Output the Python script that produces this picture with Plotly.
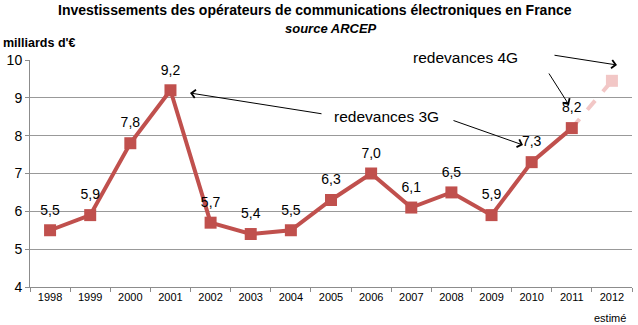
import plotly.graph_objects as go

years = ["1998","1999","2000","2001","2002","2003","2004","2005","2006","2007","2008","2009","2010","2011"]
values = [5.5, 5.9, 7.8, 9.2, 5.7, 5.4, 5.5, 6.3, 7.0, 6.1, 6.5, 5.9, 7.3, 8.2]
labels = ["5,5","5,9","7,8","9,2","5,7","5,4","5,5","6,3","7,0","6,1","6,5","5,9","7,3","8,2"]
est_years = ["2011", "2012"]
est_values = [8.2, 9.45]
all_years = years + ["2012"]

RED = "#C0504D"
PINK = "#F2C7C6"
FONT = "Liberation Sans"

fig = go.Figure()
fig.add_trace(go.Scatter(
    x=est_years, y=est_values, mode="lines",
    line=dict(color=PINK, width=4, dash="dash"), hoverinfo="skip"))
fig.add_trace(go.Scatter(
    x=[est_years[1]], y=[est_values[1]], mode="markers",
    marker=dict(symbol="square", size=12, color=PINK), hoverinfo="skip"))
fig.add_trace(go.Scatter(
    x=years, y=values, mode="lines+markers",
    line=dict(color=RED, width=4),
    marker=dict(symbol="square", size=12, color=RED)))
fig.add_trace(go.Scatter(
    x=years, y=values, mode="markers+text",
    marker=dict(symbol="square", size=18, color="rgba(0,0,0,0)"),
    text=labels, textposition="top center", hoverinfo="skip",
    textfont=dict(family=FONT, size=14, color="#000")))

def px(x):
    return (x - 30) / 602
def py(y):
    return (287 - y) / 227

fig.update_layout(
    width=638, height=325,
    margin=dict(l=30, r=6, t=60, b=38),
    paper_bgcolor="white", plot_bgcolor="white",
    showlegend=False,
    font=dict(family=FONT, color="#000"),
    xaxis=dict(type="category", categoryorder="array", categoryarray=all_years,
               range=[-0.5, 14.5], showgrid=False, showline=True, linecolor="#8c8c8c",
               ticks="outside", tickson="boundaries", ticklen=4, tickcolor="#8c8c8c",
               tickfont=dict(size=11)),
    yaxis=dict(range=[4, 10], dtick=1, showgrid=True, gridcolor="#999999", gridwidth=1,
               showline=True, linecolor="#8c8c8c", ticks="outside", ticklen=4,
               tickcolor="#8c8c8c", tickfont=dict(size=14), zeroline=False),
    shapes=[dict(type="rect", xref="paper", yref="paper", x0=px(400), x1=px(552),
                 y0=py(68), y1=py(52), fillcolor="white", line=dict(width=0),
                 layer="above")],
    annotations=[
        dict(text="<b>Investissements des opérateurs de communications électroniques en France</b>",
             x=0.5, y=1, xref="paper", yref="paper", xanchor="center", yanchor="bottom",
             xshift=-16, yshift=40, showarrow=False, font=dict(size=14)),
        dict(text="<b><i>source ARCEP</i></b>", xref="paper", yref="paper",
             x=0.5, y=1, xanchor="center", yanchor="bottom", yshift=22,
             showarrow=False, font=dict(size=13)),
        dict(text="<b>milliards d'€</b>", xref="paper", yref="paper",
             x=0, y=1, xanchor="left", yanchor="bottom", xshift=-29, yshift=8,
             showarrow=False, font=dict(size=12.5)),
        dict(text="estimé", xref="paper", yref="paper", x=1, y=0, xanchor="right",
             yanchor="top", xshift=-4, yshift=-23, showarrow=False, font=dict(size=11)),
        dict(text="redevances 4G", xref="paper", yref="paper", x=px(465), y=py(58),
             xanchor="center", yanchor="middle", showarrow=False,
             font=dict(size=15.5)),
        dict(text="redevances 3G", xref="paper", yref="paper", x=px(386),
             y=py(117), xanchor="center", yanchor="middle", showarrow=False,
             font=dict(size=15.5)),
    ],
)

arrows = [((323, 114), (190, 93)), ((452, 120), (523, 145)),
          ((553, 55), (617, 65)), ((548, 72), (569, 105))]
for (x0, y0), (x1, y1) in arrows:
    fig.add_annotation(x=px(x1), y=py(y1), ax=x0 - x1, ay=y0 - y1,
                       xref="paper", yref="paper", axref="pixel", ayref="pixel",
                       text="", showarrow=True, arrowhead=4, arrowsize=1.6,
                       arrowwidth=1, arrowcolor="#000")

fig.write_html("out.html")
